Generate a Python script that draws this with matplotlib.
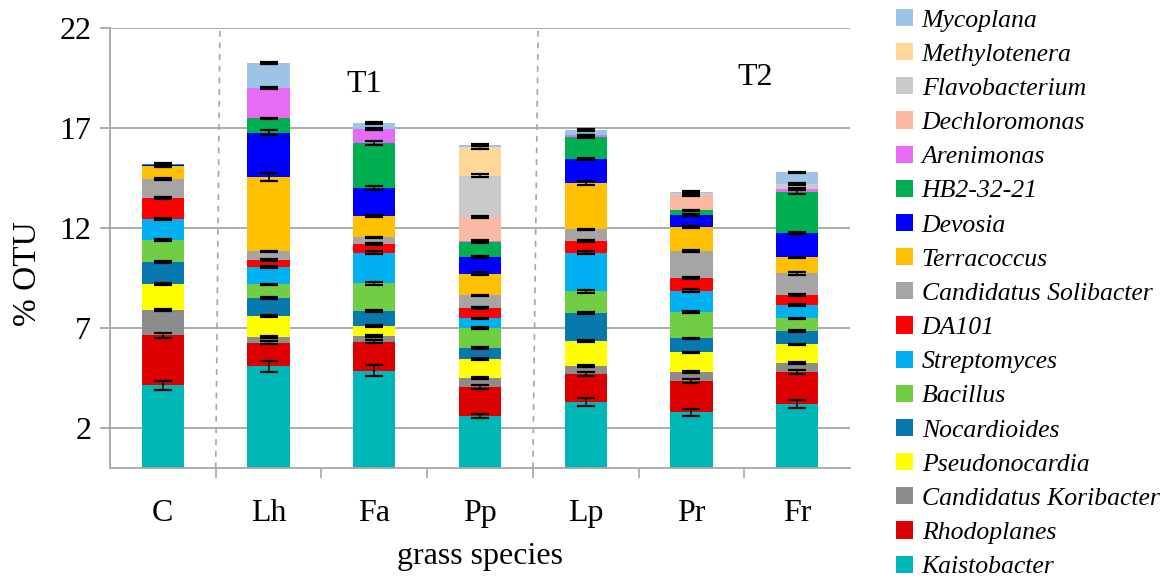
import numpy as np
import matplotlib.pyplot as plt
from matplotlib.patches import Patch

plt.rcParams['font.family'] = ['Liberation Serif', 'DejaVu Serif']

groups = ['C', 'Lh', 'Fa', 'Pp', 'Lp', 'Pr', 'Fr']

# bottom to top stacking order
taxa = ['Kaistobacter', 'Rhodoplanes', 'Candidatus Koribacter', 'Pseudonocardia',
        'Nocardioides', 'Bacillus', 'Streptomyces', 'DA101', 'Candidatus Solibacter',
        'Terracoccus', 'Devosia', 'HB2-32-21', 'Arenimonas', 'Dechloromonas',
        'Flavobacterium', 'Methylotenera', 'Mycoplana']
colors = ['#00B7B7', '#DD0000', '#8C8C8C', '#FFFF00', '#0779AE', '#71CD44', '#00B0F0',
          '#FF0000', '#A5A5A5', '#FFC000', '#0000FF', '#00B050', '#E66BF5', '#FBB9A3',
          '#CACACA', '#FFD899', '#9DC3E6']

# % OTU per taxon, columns follow groups
kaistobacter = [4.15, 5.11, 4.88, 2.62, 3.33, 2.80, 3.22]
rhodoplanes = [2.51, 1.17, 1.45, 1.46, 1.37, 1.57, 1.60]
koribacter = [1.27, 0.29, 0.29, 0.45, 0.42, 0.45, 0.46]
pseudonocardia = [1.30, 1.05, 0.50, 0.95, 1.23, 0.98, 0.92]
nocardioides = [1.09, 0.91, 0.73, 0.55, 1.42, 0.70, 0.67]
bacillus = [1.10, 0.67, 1.40, 0.99, 1.08, 1.32, 0.63]
streptomyces = [1.06, 0.87, 1.53, 0.48, 1.93, 1.06, 0.68]
da101 = [1.05, 0.36, 0.45, 0.52, 0.57, 0.65, 0.50]
solibacter = [0.94, 0.42, 0.32, 0.63, 0.60, 1.34, 1.07]
terracoccus = [0.65, 3.70, 1.08, 1.08, 2.33, 1.20, 0.80]
devosia = [0.06, 2.23, 1.39, 0.85, 1.19, 0.58, 1.22]
hb2 = [0.02, 0.72, 2.25, 0.74, 1.11, 0.25, 2.06]
arenimonas = [0.0, 1.53, 0.71, 0.04, 0.08, 0.0, 0.14]
dechloromonas = [0.0, 0.0, 0.0, 1.21, 0.0, 0.78, 0.0]
flavobacterium = [0.0, 0.0, 0.0, 2.06, 0.0, 0.08, 0.26]
methylotenera = [0.0, 0.0, 0.0, 1.42, 0.0, 0.0, 0.0]
mycoplana = [0.02, 1.24, 0.29, 0.12, 0.25, 0.04, 0.57]

# standard errors
err_kaistobacter = [0.22, 0.27, 0.27, 0.10, 0.20, 0.17, 0.18]
err_rhodoplanes = [0.13, 0.08, 0.08, 0.10, 0.10, 0.10, 0.10]
err_koribacter = [0.06, 0.05, 0.06, 0.04, 0.06, 0.04, 0.04]
err_pseudonocardia = [0.05, 0.04, 0.04, 0.04, 0.05, 0.04, 0.04]
err_nocardioides = [0.05, 0.04, 0.05, 0.04, 0.07, 0.04, 0.05]
err_bacillus = [0.05, 0.04, 0.08, 0.07, 0.07, 0.07, 0.04]
err_streptomyces = [0.04, 0.04, 0.08, 0.04, 0.07, 0.07, 0.04]
err_da101 = [0.05, 0.04, 0.05, 0.04, 0.05, 0.04, 0.04]
err_solibacter = [0.05, 0.04, 0.04, 0.04, 0.04, 0.07, 0.06]
err_terracoccus = [0.05, 0.20, 0.06, 0.07, 0.10, 0.07, 0.04]
err_devosia = [0.04, 0.12, 0.08, 0.05, 0.07, 0.05, 0.06]
err_hb2 = [0.03, 0.04, 0.08, 0.05, 0.07, 0.04, 0.10]
err_arenimonas = [0.0, 0.05, 0.05, 0.04, 0.03, 0.0, 0.05]
err_dechloromonas = [0.0, 0.0, 0.0, 0.07, 0.0, 0.06, 0.0]
err_flavobacterium = [0.0, 0.0, 0.0, 0.08, 0.0, 0.03, 0.04]
err_methylotenera = [0.0, 0.0, 0.0, 0.08, 0.0, 0.0, 0.0]
err_mycoplana = [0.03, 0.03, 0.04, 0.06, 0.05, 0.05, 0.04]

values = [kaistobacter, rhodoplanes, koribacter, pseudonocardia, nocardioides, bacillus,
          streptomyces, da101, solibacter, terracoccus, devosia, hb2, arenimonas,
          dechloromonas, flavobacterium, methylotenera, mycoplana]
errors = [err_kaistobacter, err_rhodoplanes, err_koribacter, err_pseudonocardia,
          err_nocardioides, err_bacillus, err_streptomyces, err_da101, err_solibacter,
          err_terracoccus, err_devosia, err_hb2, err_arenimonas, err_dechloromonas,
          err_flavobacterium, err_methylotenera, err_mycoplana]

fig = plt.figure(figsize=(11.65, 5.79), dpi=100)
ax = fig.add_axes([110 / 1165, 1 - 468.3 / 579, 740 / 1165, 440 / 579])

x = np.arange(len(groups))
bottom = np.zeros(len(groups))
grid_c = '#A6A6A6'

for y in [2, 7, 12, 17, 22]:
    ax.axhline(y, color=grid_c, lw=1.3, zorder=0)

# dashed separators between control / T1 / T2
ax.plot([0.50, 0.54], [0, 22], color=grid_c, lw=1.2, ls=(0, (3.5, 3.5)), zorder=0)
ax.plot([3.50, 3.55], [0, 22], color=grid_c, lw=1.2, ls=(0, (3.5, 3.5)), zorder=0)

for vals, errs, col in zip(values, errors, colors):
    vals = np.array(vals)
    ax.bar(x, vals, 0.40, bottom=bottom, color=col, edgecolor='none', zorder=2)
    top = bottom + vals
    m = vals > 0
    ax.errorbar(x[m], top[m], yerr=np.array(errs)[m], fmt='none', ecolor='black',
                elinewidth=1.2, capsize=6.5, capthick=1.6, zorder=3)
    bottom = top

ax.set_xlim(-0.5, 6.5)
ax.set_ylim(0, 22)
ax.set_yticks([2, 7, 12, 17, 22])
ax.set_xticks(x)
ax.set_xticklabels(groups)
ax.set_xticks(np.arange(0.5, 6.5, 1), minor=True)
ax.tick_params(axis='x', which='major', length=0, pad=22, labelsize=23)
ax.tick_params(axis='x', which='minor', length=7.5, width=1.2, color=grid_c)
ax.tick_params(axis='y', length=7.5, width=1.3, color=grid_c, pad=6, labelsize=23)

for s in ['top', 'right']:
    ax.spines[s].set_visible(False)
for s in ['left', 'bottom']:
    ax.spines[s].set_color(grid_c)
    ax.spines[s].set_linewidth(1.3)

ax.set_xlabel('grass species', fontsize=23, labelpad=10)
fig.text(28 / 1165, 1 - 274 / 579, '% OTU', rotation=90, ha='center', va='center', fontsize=24)

ax.text(1.90, 18.8, 'T1', ha='center', va='baseline', fontsize=23)
ax.text(5.60, 19.17, 'T2', ha='center', va='baseline', fontsize=23)

handles = [Patch(facecolor=c, label=t) for t, c in zip(taxa, colors)][::-1]
fig.legend(handles=handles, loc='upper left', bbox_to_anchor=(896 / 1165, 1 - 9 / 579),
           frameon=False, prop={'style': 'italic', 'size': 18.5},
           handlelength=0.65, handleheight=0.65, handletextpad=0.35,
           labelspacing=0.45, borderaxespad=0.0, borderpad=0.0)

fig.savefig('out.png', dpi=100)
